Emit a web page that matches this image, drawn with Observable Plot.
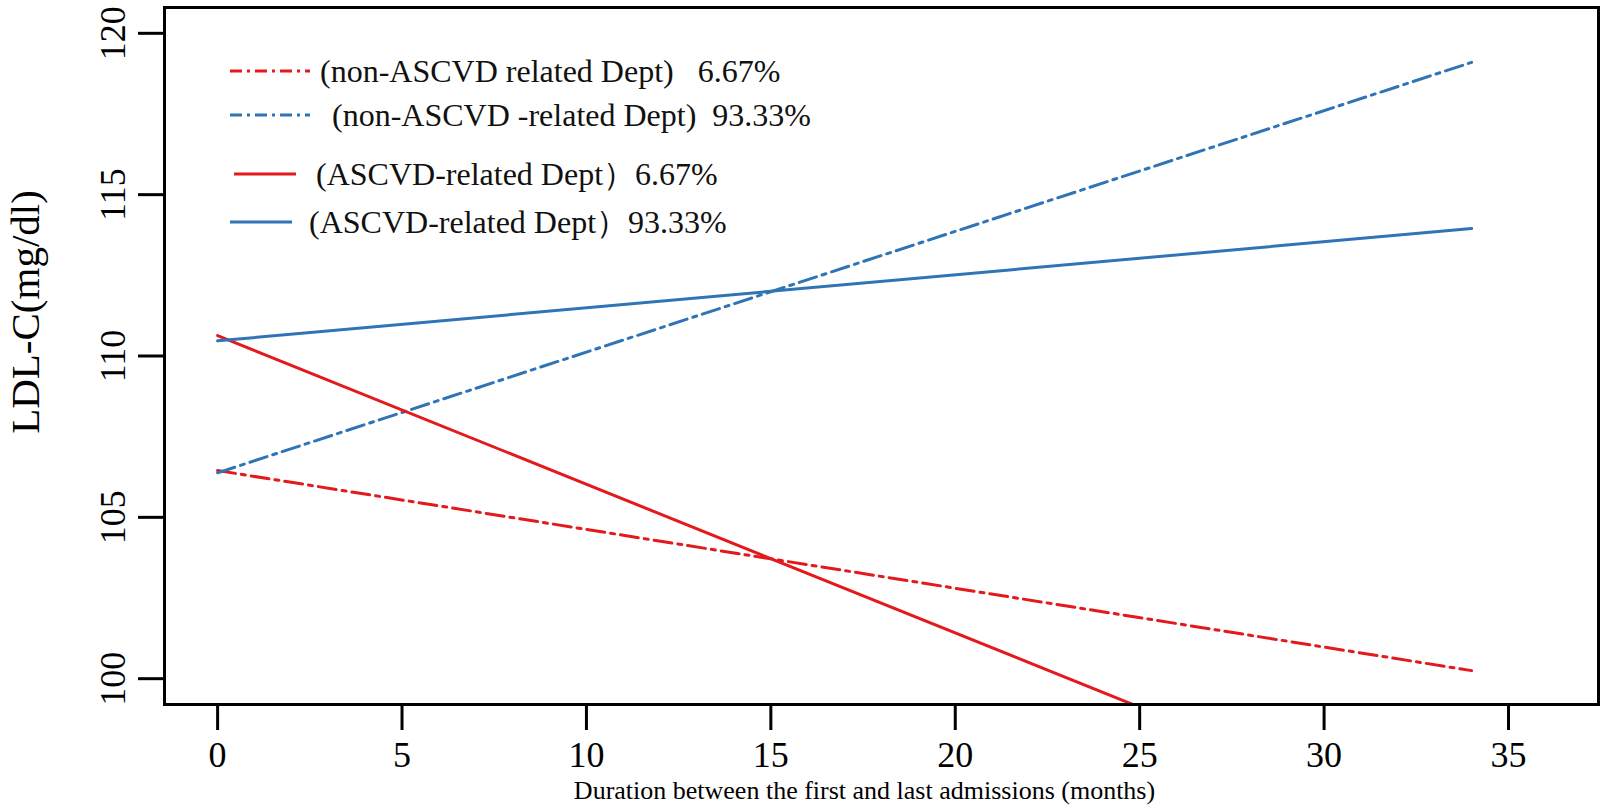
<!DOCTYPE html>
<html>
<head>
<meta charset="utf-8">
<script src="https://cdn.jsdelivr.net/npm/d3@7"></script>
<script src="https://cdn.jsdelivr.net/npm/@observablehq/plot@0.6"></script>
<style>
  html, body { margin: 0; padding: 0; background: #fff; }
  #wrap { position: relative; width: 1605px; height: 811px; }
  #wrap svg text { font-family: "Liberation Serif", "Times New Roman", serif; }
  #legend { position: absolute; left: 0; top: 0; pointer-events: none; }
  #legend text { font-family: "Liberation Serif", "Times New Roman", "Noto Sans CJK SC", serif; font-size: 32px; white-space: pre; fill: #111; }
</style>
</head>
<body>
<div id="wrap"></div>
<script>
// ---- data ----
const months = [0, 34];
const nonAscvd667 = [106.45, 100.25];   // red dash-dot
const nonAscvd9333 = [106.38, 119.1];   // blue dash-dot
const ascvd667 = [110.63, 94.97];       // red solid (clipped at bottom)
const ascvd9333 = [110.47, 113.95];     // blue solid
const xTicks = [0, 5, 10, 15, 20, 25, 30, 35];
const yTicks = [100, 105, 110, 115, 120];
const seriesLabels = [
  "(non-ASCVD related Dept)   6.67%",
  "(non-ASCVD -related Dept)  93.33%",
  "(ASCVD-related Dept\uFF096.67%",
  "(ASCVD-related Dept\uFF0993.33%"
];
const xTitle = "Duration between the first and last admissions (months)";
const yTitle = "LDL-C(mg/dl)";

const RED = "#e3191c";
const BLUE = "#2f74b5";
const DASH = "18 6 4 6";
const SERIF = "'Liberation Serif', 'Times New Roman', serif";

const series = [
  {values: nonAscvd667, color: RED, dash: DASH},
  {values: nonAscvd9333, color: BLUE, dash: DASH},
  {values: ascvd667, color: RED, dash: null},
  {values: ascvd9333, color: BLUE, dash: null}
];

const lineMarks = series.map(s => Plot.line(
  months.map((m, i) => ({x: m, y: s.values[i]})),
  {x: "x", y: "y", stroke: s.color, strokeWidth: 3, strokeDasharray: s.dash, clip: true}
));

const chart = Plot.plot({
  width: 1605,
  height: 811,
  marginLeft: 164,
  marginRight: 7,
  marginTop: 7,
  marginBottom: 107,
  x: {domain: [-1.44, 37.44]},
  y: {domain: [99.2, 120.8]},
  style: {fontFamily: SERIF, background: "white", color: "black"},
  marks: [
    ...lineMarks,
    Plot.frame({stroke: "black", strokeWidth: 3}),
    Plot.axisX(xTicks, {tickSize: 26, strokeWidth: 3, fontSize: 36, fontFamily: SERIF, tickPadding: 11, label: null}),
    Plot.axisY(yTicks, {tickSize: 26, strokeWidth: 3, tickFormat: () => "", label: null}),
    Plot.text(yTicks, {y: d => d, text: d => String(d), frameAnchor: "left", dx: -51, rotate: -90,
      fontSize: 36, fontFamily: SERIF, textAnchor: "middle", lineAnchor: "middle"}),
    Plot.text([yTitle], {text: d => d, frameAnchor: "left", dx: -139, dy: -44, rotate: -90,
      fontSize: 41, fontFamily: SERIF, textAnchor: "middle", lineAnchor: "middle"}),
    Plot.text([xTitle], {text: d => d, frameAnchor: "bottom", dx: -17, dy: 86,
      fontSize: 26, fontFamily: SERIF, textAnchor: "middle", lineAnchor: "middle"})
  ]
});

const wrap = document.getElementById("wrap");
wrap.appendChild(chart);

// ---- legend overlay (inside plot, upper-left) ----
const legendRows = [
  {y: 71, x1: 230, x2: 310, tx: 320},
  {y: 115, x1: 230, x2: 310, tx: 332},
  {y: 174, x1: 234, x2: 296, tx: 316},
  {y: 222, x1: 230, x2: 292, tx: 309}
];
const ns = "http://www.w3.org/2000/svg";
const lg = document.createElementNS(ns, "svg");
lg.setAttribute("id", "legend");
lg.setAttribute("width", 1605);
lg.setAttribute("height", 811);
legendRows.forEach((r, i) => {
  const s = series[i];
  const ln = document.createElementNS(ns, "line");
  ln.setAttribute("x1", r.x1); ln.setAttribute("x2", r.x2);
  ln.setAttribute("y1", r.y); ln.setAttribute("y2", r.y);
  ln.setAttribute("stroke", s.color);
  ln.setAttribute("stroke-width", 3);
  if (s.dash) ln.setAttribute("stroke-dasharray", "12 5 3 5");
  lg.appendChild(ln);
  const t = document.createElementNS(ns, "text");
  t.setAttribute("x", r.tx);
  t.setAttribute("y", r.y + 11);
  t.setAttribute("xml:space", "preserve");
  t.textContent = seriesLabels[i];
  lg.appendChild(t);
});
wrap.appendChild(lg);
</script>
</body>
</html>
